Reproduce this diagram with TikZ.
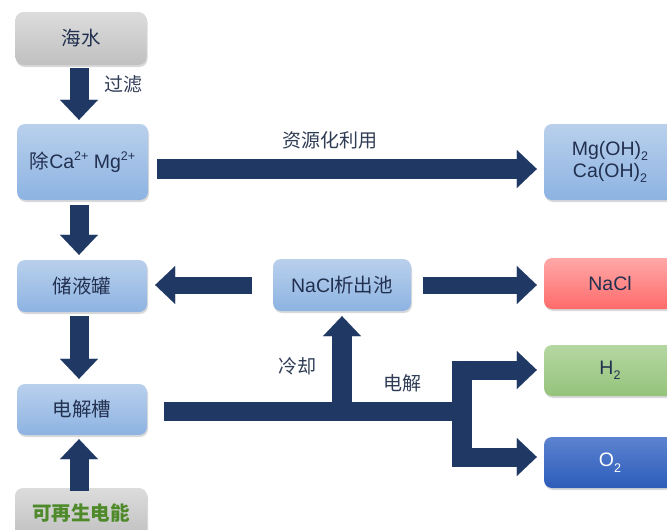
\documentclass[tikz,border=0pt]{standalone}
\usepackage{fontspec}
\setmainfont{Liberation Sans}
\newfontfamily\cjk{Noto Sans CJK SC}
\usetikzlibrary{arrows.meta,shadows,calc}
\definecolor{navy}{HTML}{1F3864}
\definecolor{txt}{HTML}{223050}
\definecolor{labc}{HTML}{2F3C55}
\definecolor{grtop}{HTML}{DCDCDC}\definecolor{grbot}{HTML}{C0C0C0}
\definecolor{bltop}{HTML}{B9D0EC}\definecolor{blbot}{HTML}{8DB3E2}
\definecolor{rdtop}{HTML}{FFA8A8}\definecolor{rdbot}{HTML}{FF6B6B}
\definecolor{gntop}{HTML}{B5D7A2}\definecolor{gnbot}{HTML}{95C37B}
\definecolor{dbtop}{HTML}{5C83D0}\definecolor{dbbot}{HTML}{2C5CB9}
\definecolor{rengreen}{HTML}{4E8A2A}
\newcommand\upx[1]{\raisebox{0.42em}{\fontsize{12.5}{12}\selectfont #1}}
\newcommand\dnx[1]{\raisebox{-0.28em}{\fontsize{12.5}{12}\selectfont #1}}
\tikzset{
  box/.style={rounded corners=8pt, minimum width=131pt, inner sep=0pt,
    text=txt, font=\fontsize{19.5}{22}\selectfont, align=center,
    drop shadow={shadow xshift=1pt, shadow yshift=-2pt, opacity=0.3}},
  graybox/.style={box, top color=grtop, bottom color=grbot},
  bluebox/.style={box, top color=bltop, bottom color=blbot},
  redbox/.style={box, top color=rdtop, bottom color=rdbot},
  greenbox/.style={box, top color=gntop, bottom color=gnbot},
  dbluebox/.style={box, top color=dbtop, bottom color=dbbot, text=white},
  lbl/.style={text=labc, font=\cjk\fontsize{19}{22}\selectfont, inner sep=0pt},
  fat/.style={draw=navy, line width=19pt,
    -{Triangle[width=38pt,length=20pt,line width=0.01pt]}},
  bar/.style={draw=navy, line width=19pt}
}
\begin{document}
\begin{tikzpicture}[x=1pt,y=-1pt]
\useasboundingbox (0,0) rectangle (667,530);
\clip (0,0) rectangle (667,530);
% boxes
\node[graybox, minimum height=53pt] (sea) at (81,38.5) {{\cjk 海水}};
\node[bluebox, minimum height=76pt] (rem) at (82.5,162) {{\cjk 除}Ca\upx{2+} Mg\upx{2+}};
\node[bluebox, minimum height=76pt, minimum width=132pt] (mgoh) at (610,162) {Mg(OH)\dnx{2}\\Ca(OH)\dnx{2}};
\node[bluebox, minimum height=52pt, minimum width=130pt] (tank) at (82,286) {{\cjk 储液罐}};
\node[bluebox, minimum height=51pt, minimum width=130pt] (elec) at (82,409.5) {{\cjk 电解槽}};
\node[graybox, minimum height=50pt, minimum width=132pt, text=rengreen, font=\cjk\bfseries\fontsize{19.5}{22}\selectfont] (ren) at (81,513) {可再生电能};
\node[bluebox, minimum height=52pt, minimum width=138pt] (pool) at (342,285) {NaCl{\cjk 析出池}};
\node[redbox, minimum height=51pt, minimum width=132pt] (nacl) at (610,283.5) {NaCl};
\node[greenbox, minimum height=51pt, minimum width=132pt] (h2) at (610,370.5) {H\dnx{2}};
\node[dbluebox, minimum height=51pt, minimum width=132pt] (o2) at (610,462.5) {O\dnx{2}};
% labels
\node[lbl] (l1) at (123,84) {过滤};
\node[lbl] (l2) at (330,140) {资源化利用};
\node[lbl] (l3) at (297,366) {冷却};
\node[lbl] (l4) at (402,383) {电解};
% arrows
\draw[fat, shorten <=3pt, shorten >=4pt] ($(sea.south)+(-2,0)$) -- ($(rem.north)+(-3.5,0)$);
\draw[fat, shorten <=5pt, shorten >=5pt] ($(rem.south)+(-3.5,0)$) -- ($(tank.north)+(-3,0)$);
\draw[fat, shorten <=4pt, shorten >=5pt] ($(tank.south)+(-3,0)$) -- ($(elec.north)+(-3,0)$);
\draw[fat, shorten <=-3pt, shorten >=4pt] ($(ren.north)+(-2,0)$) -- ($(elec.south)+(-3,0)$);
\coordinate (r0) at ($(rem.east)+(0,7)$);
\draw[fat, line width=20pt, shorten <=9pt, shorten >=7pt] (r0) -- (r0 -| mgoh.west);
\draw[fat, line width=17pt, shorten <=21pt, shorten >=8pt] (pool.west) -- (pool.west -| tank.east);
\draw[fat, line width=17pt, shorten <=12pt, shorten >=7pt] (pool.east) -- (pool.east -| nacl.west);
% electrolysis branching
\coordinate (t0) at ($(elec.east)+(17,1.5)$);
\coordinate (tj) at (462,411);
\coordinate (jt) at (452,370);
\coordinate (jb) at (452,457);
\draw[bar] (t0) -- (tj);
\draw[bar, line width=20pt] (462,360.5) -- (462,466.5);
\draw[fat, shorten >=7pt] (jt) -- (jt -| h2.west);
\draw[fat, shorten >=7pt] (jb) -- (jb -| o2.west);
\draw[fat, line width=20pt, shorten >=5pt] (pool.south |- tj) -- (pool.south);
\end{tikzpicture}
\end{document}
